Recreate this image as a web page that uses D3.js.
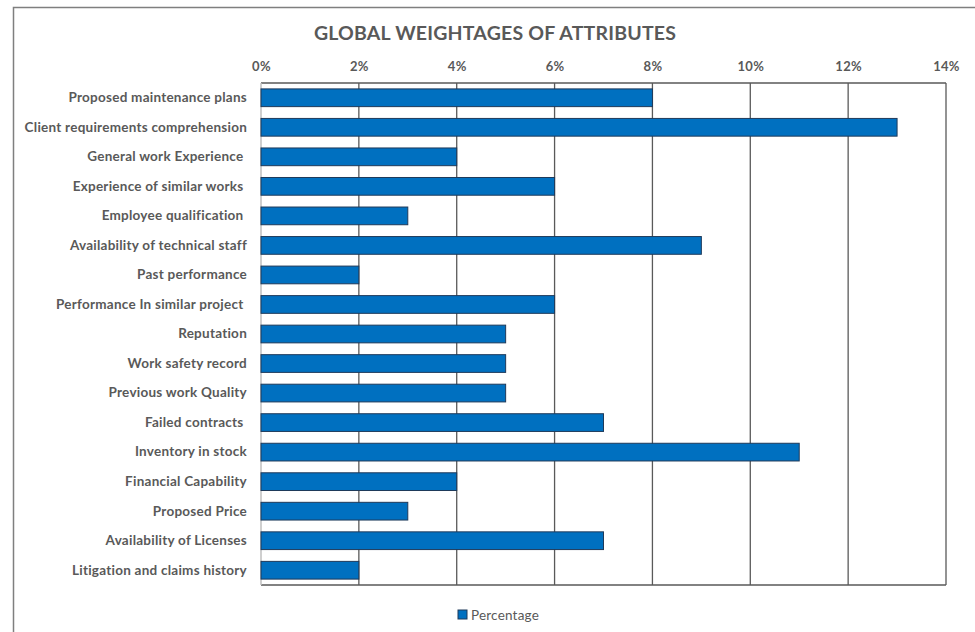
<!DOCTYPE html>
<html>
<head>
<meta charset="utf-8">
<script src="https://cdn.jsdelivr.net/npm/d3@7"></script>
<style>
  body { margin: 0; background: #fff; }
  svg text { font-family: Lato, "Open Sans", sans-serif; white-space: pre; }
</style>
</head>
<body>
<svg id="chart" width="975" height="632"></svg>
<script>
const categories = [
  'Proposed maintenance plans',
  'Client requirements comprehension',
  'General work Experience ',
  'Experience of similar works ',
  'Employee qualification ',
  'Availability of technical staff',
  'Past performance',
  'Performance In similar project ',
  'Reputation',
  'Work safety record',
  'Previous work Quality',
  'Failed contracts ',
  'Inventory in stock',
  'Financial Capability',
  'Proposed Price',
  'Availability of Licenses',
  'Litigation and claims history'
];
const percentages = [8, 13, 4, 6, 3, 9, 2, 6, 5, 5, 5, 7, 11, 4, 3, 7, 2];
const xTicks = [0, 2, 4, 6, 8, 10, 12, 14];

const svg = d3.select('#chart');
const margin = { top: 83, right: 29, bottom: 47, left: 261 };
const width = 975, height = 632;

// outer chart frame (right/bottom run off the picture)
svg.append('rect')
  .attr('x', 13.5).attr('y', 7.5)
  .attr('width', 1000).attr('height', 700)
  .attr('fill', 'none').attr('stroke', '#7f7f7f').attr('stroke-width', 1.5);

const x = d3.scaleLinear().domain([0, 14]).range([margin.left, width - margin.right]);
const y = d3.scaleBand().domain(categories)
  .range([margin.top, height - margin.bottom]).paddingInner(0.4).paddingOuter(0.2);

// gridlines
svg.append('g').selectAll('line').data(xTicks.slice(1))
  .join('line')
  .attr('x1', d => x(d)).attr('x2', d => x(d))
  .attr('y1', margin.top).attr('y2', height - margin.bottom)
  .attr('stroke', '#595959').attr('stroke-width', 1.3);

// plot frame top / bottom
svg.append('line')
  .attr('x1', margin.left).attr('x2', x(14))
  .attr('y1', margin.top).attr('y2', margin.top)
  .attr('stroke', '#595959').attr('stroke-width', 1.3);
svg.append('line')
  .attr('x1', margin.left).attr('x2', x(14))
  .attr('y1', height - margin.bottom).attr('y2', height - margin.bottom)
  .attr('stroke', '#595959').attr('stroke-width', 1.3);

// left axis line
svg.append('line')
  .attr('x1', margin.left).attr('x2', margin.left)
  .attr('y1', margin.top).attr('y2', height - margin.bottom)
  .attr('stroke', '#bfbfbf').attr('stroke-width', 1.5);

// bars
svg.append('g').selectAll('rect').data(percentages)
  .join('rect')
  .attr('x', x(0))
  .attr('y', (d, i) => y(categories[i]))
  .attr('width', d => x(d) - x(0))
  .attr('height', y.bandwidth())
  .attr('fill', '#0070c0')
  .attr('stroke', '#1f3a5a').attr('stroke-width', 1);

// top axis labels
const xAxis = d3.axisTop(x).tickValues(xTicks).tickFormat(d => d + '%').tickSize(0).tickPadding(12);
svg.append('g')
  .attr('transform', `translate(0,${margin.top})`)
  .call(xAxis)
  .call(g => g.select('.domain').remove())
  .call(g => g.selectAll('text')
    .attr('fill', '#595959').attr('font-size', 13).attr('font-weight', 'bold')
    .attr('letter-spacing', 0.3)
    .style('font-family', 'Lato, sans-serif'));

// category labels
const yAxis = d3.axisLeft(y).tickSize(0).tickPadding(14);
svg.append('g')
  .attr('transform', `translate(${margin.left},0)`)
  .call(yAxis)
  .call(g => g.select('.domain').remove())
  .call(g => g.selectAll('text')
    .attr('fill', '#595959').attr('font-size', 13.5).attr('font-weight', 'bold')
    .attr('letter-spacing', 0.25)
    .style('font-family', 'Lato, sans-serif'));

// title
svg.append('text')
  .attr('x', 495).attr('y', 40)
  .attr('text-anchor', 'middle')
  .attr('fill', '#595959').attr('font-size', 19.5).attr('font-weight', 'bold')
  .attr('letter-spacing', 0.2)
  .text('GLOBAL WEIGHTAGES OF ATTRIBUTES');

// legend
const legend = svg.append('g').attr('transform', 'translate(458,610)');
legend.append('rect')
  .attr('width', 9).attr('height', 9)
  .attr('fill', '#0070c0').attr('stroke', '#1f3a5a');
legend.append('text')
  .attr('x', 13).attr('y', 9.5)
  .attr('fill', '#595959').attr('font-size', 13.5)
  .attr('letter-spacing', 0.2)
  .text('Percentage');
</script>
</body>
</html>
